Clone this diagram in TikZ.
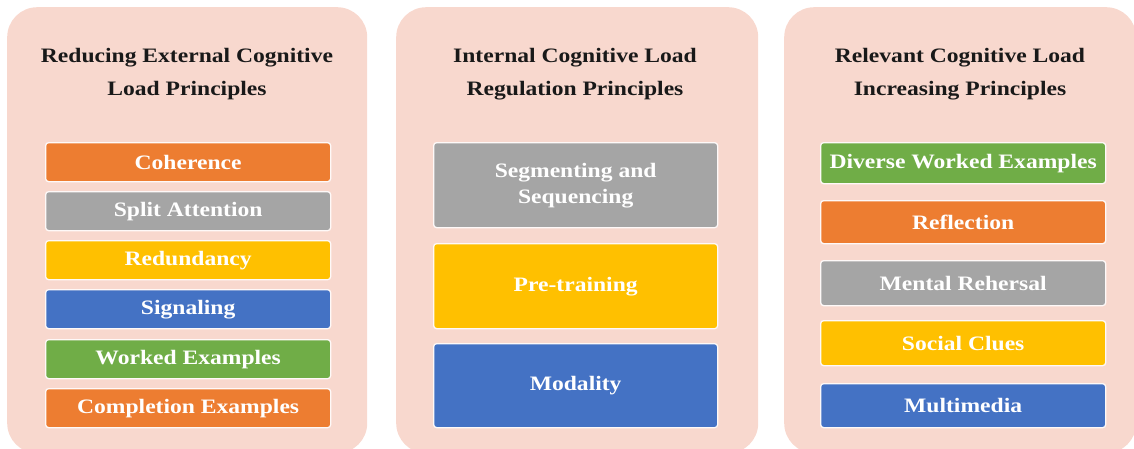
\documentclass[tikz,border=0pt]{standalone}
\usepackage{fontspec}
\setmainfont{Liberation Serif}[FakeStretch=1.15]
\definecolor{panelpink}{HTML}{F8D8CE}
\definecolor{iorange}{HTML}{ED7D31}
\definecolor{igray}{HTML}{A5A5A5}
\definecolor{iyellow}{HTML}{FFC000}
\definecolor{iblue}{HTML}{4472C4}
\definecolor{igreen}{HTML}{70AD47}
\begin{document}
\begin{tikzpicture}[x=1pt,y=-1pt,
  panel/.style={fill=panelpink, draw=none, rounded corners=30pt, anchor=north west, inner sep=0pt},
  item/.style={draw=white!85!panelpink, line width=1.3pt, rounded corners=3pt, text=white,
    font=\bfseries\fontsize{20.5}{26}\selectfont, align=center, inner sep=0pt, anchor=north west},
  ptitle/.style={font=\bfseries\fontsize{20.5}{33}\selectfont, align=center, text=black!90}
]
\useasboundingbox (0,0) rectangle (1134,448);
% panels
\node[panel, minimum width=360pt, minimum height=446pt] (p1) at (7,7) {};
\node[panel, minimum width=362pt, minimum height=446pt] (p2) at (396,7) {};
\node[panel, minimum width=352pt, minimum height=446pt] (p3) at (784,7) {};
% titles
\node[ptitle] (t1) at (187,74) {Reducing External Cognitive\\Load Principles};
\node[ptitle] (t2) at (575,74) {Internal Cognitive Load\\Regulation Principles};
\node[ptitle] (t3) at (960,74) {Relevant Cognitive Load\\Increasing Principles};
% panel 1 items
\node[item, fill=iorange, minimum width=285pt, minimum height=39pt] (a1) at (45,142) {Coherence};
\node[item, fill=igray,   minimum width=285pt, minimum height=39pt] (a2) at (45,191) {Split Attention};
\node[item, fill=iyellow, minimum width=285pt, minimum height=39pt] (a3) at (45,240) {Redundancy};
\node[item, fill=iblue,   minimum width=285pt, minimum height=39pt] (a4) at (45,289) {Signaling};
\node[item, fill=igreen,  minimum width=285pt, minimum height=39pt] (a5) at (45,339) {Worked Examples};
\node[item, fill=iorange, minimum width=285pt, minimum height=39pt] (a6) at (45,388) {Completion Examples};
% panel 2 items
\node[item, fill=igray,   minimum width=284pt, minimum height=85pt] (b1) at (433,142) {Segmenting and\\Sequencing};
\node[item, fill=iyellow, minimum width=284pt, minimum height=85pt] (b2) at (433,243) {Pre-training};
\node[item, fill=iblue,   minimum width=284pt, minimum height=84pt] (b3) at (433,343) {Modality};
% panel 3 items
\node[item, fill=igreen,  minimum width=285pt, minimum height=41pt] (c1) at (820,142) {Diverse Worked Examples};
\node[item, fill=iorange, minimum width=285pt, minimum height=43pt] (c2) at (820,200) {Reflection};
\node[item, fill=igray,   minimum width=285pt, minimum height=45pt] (c3) at (820,260) {Mental Rehersal};
\node[item, fill=iyellow, minimum width=285pt, minimum height=45pt] (c4) at (820,320) {Social Clues};
\node[item, fill=iblue,   minimum width=285pt, minimum height=44pt] (c5) at (820,383) {Multimedia};
\end{tikzpicture}
\end{document}
